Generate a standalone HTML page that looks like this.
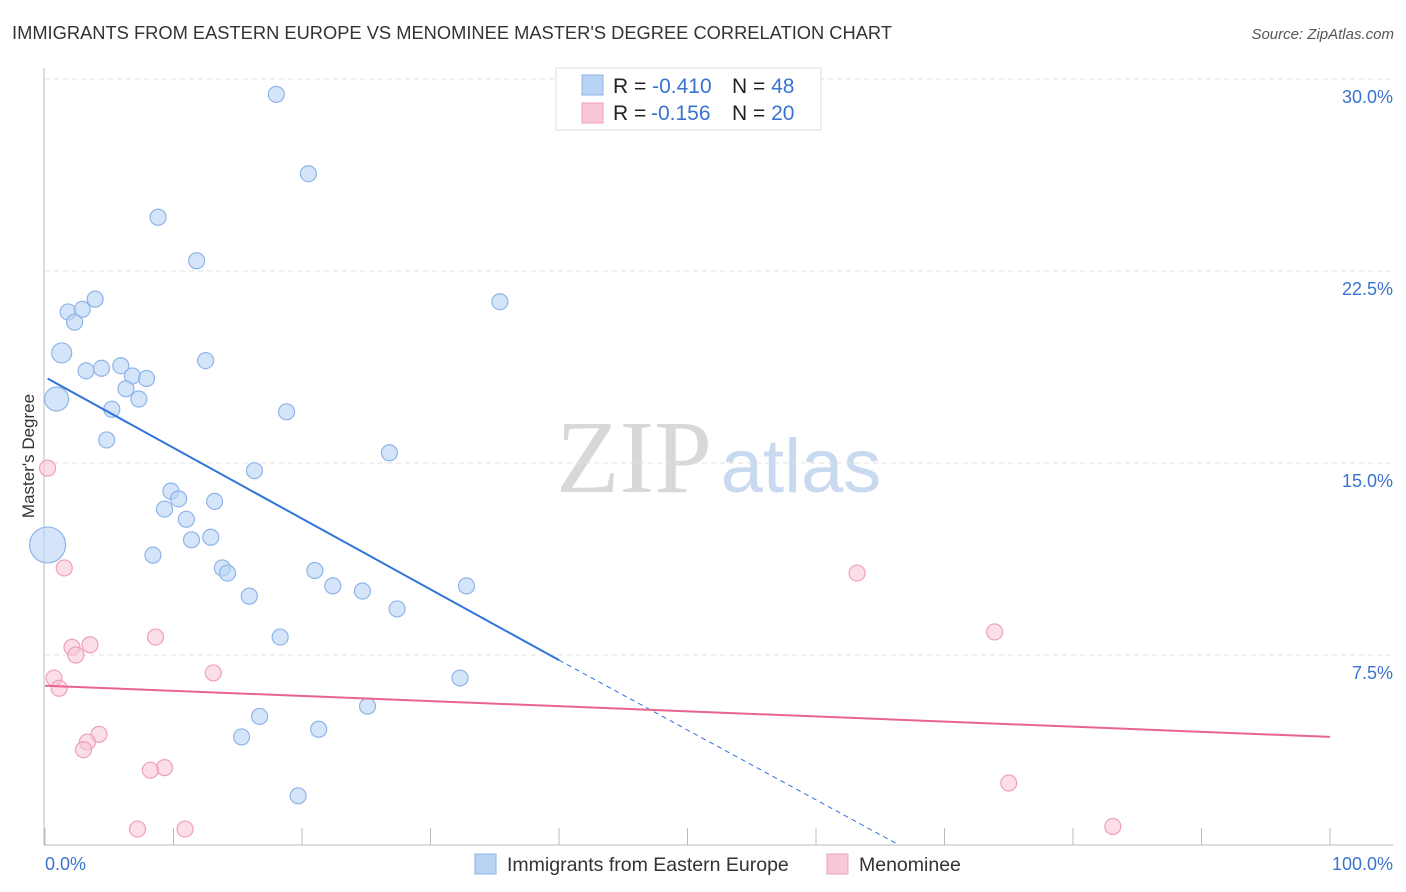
<!DOCTYPE html>
<html><head><meta charset="utf-8"><style>
body{margin:0;background:#fff;font-family:"Liberation Sans",sans-serif;}
svg{display:block}
</style></head><body>
<svg id="chart" width="1406" height="892" xmlns="http://www.w3.org/2000/svg">
<text x="12" y="39" font-size="18" fill="#333" textLength="880" lengthAdjust="spacingAndGlyphs">IMMIGRANTS FROM EASTERN EUROPE VS MENOMINEE MASTER'S DEGREE CORRELATION CHART</text>
<text x="1394" y="39" font-size="15" fill="#555" font-style="italic" text-anchor="end">Source: ZipAtlas.com</text>
<text x="634" y="492" font-size="104" fill="#d8d8d8" font-family="Liberation Serif,serif" text-anchor="middle">ZIP</text>
<text x="801" y="492" font-size="76" fill="#c9d9ef" text-anchor="middle">atlas</text>
<g id="grid"></g>
<g id="axes"></g>
<text transform="translate(34,456) rotate(-90)" font-size="17" fill="#333" text-anchor="middle">Master's Degree</text>
<g id="marks"></g>
<g>
<rect x="556" y="68" width="265" height="62" fill="#fff" stroke="#ddd"/>
<rect x="582" y="75" width="21" height="20" fill="#b9d3f5" stroke="#8fb4e8"/>
<rect x="582" y="103" width="21" height="20" fill="#f9c8d6" stroke="#f0a0b8"/>
<text x="613" y="93" font-size="21" fill="#222">R = <tspan fill="#3a74d0">-0.410</tspan><tspan x="732">N = </tspan><tspan fill="#3a74d0">48</tspan></text>
<text x="613" y="120" font-size="21" fill="#222">R = <tspan fill="#3a74d0" x="651">-0.156</tspan><tspan x="732">N = </tspan><tspan fill="#3a74d0">20</tspan></text>
</g>
<g>
<rect x="475" y="854" width="21" height="20" fill="#b9d3f5" stroke="#8fb4e8"/>
<text x="507" y="871" font-size="19.5" fill="#333">Immigrants from Eastern Europe</text>
<rect x="827" y="854" width="21" height="20" fill="#f9c8d6" stroke="#f0a0b8"/>
<text x="859" y="871" font-size="19.5" fill="#333">Menominee</text>
</g>
</svg>
<script>
const yTicks=[7.5,15,22.5,30];
const yTickLabels=["7.5%","15.0%","22.5%","30.0%"];
const xTickLabels=["0.0%","100.0%"];
const blueX=[18.0,20.5,8.8,11.8,3.9,35.4,1.8,2.9,2.3,1.3,12.5,3.2,4.4,5.9,6.8,7.9,6.3,0.9,7.3,5.2,18.8,4.8,26.8,16.3,9.8,10.4,13.2,9.3,11.0,12.9,11.4,8.4,0.2,13.8,14.2,21.0,22.4,32.8,24.7,15.9,27.4,18.3,32.3,25.1,16.7,21.3,15.3,19.7];
const blueY=[29.4,26.3,24.6,22.9,21.4,21.3,20.9,21.0,20.5,19.3,19.0,18.6,18.7,18.8,18.4,18.3,17.9,17.5,17.5,17.1,17.0,15.9,15.4,14.7,13.9,13.6,13.5,13.2,12.8,12.1,12.0,11.4,11.8,10.9,10.7,10.8,10.2,10.2,10.0,9.8,9.3,8.2,6.6,5.5,5.1,4.6,4.3,2.0];
const blueR=[8,8,8,8,8,8,8,8,8,10,8,8,8,8,8,8,8,12,8,8,8,8,8,8,8,8,8,8,8,8,8,8,18,8,8,8,8,8,8,8,8,8,8,8,8,8,8,8];
const pinkX=[0.2,1.5,8.6,2.1,3.5,2.4,13.1,0.7,1.1,4.2,3.3,3.0,9.3,8.2,7.2,10.9,63.2,73.9,75.0,83.1];
const pinkY=[14.8,10.9,8.2,7.8,7.9,7.5,6.8,6.6,6.2,4.4,4.1,3.8,3.1,3.0,0.7,0.7,10.7,8.4,2.5,0.8];
const blueTrend=[[0.2,18.3],[40,7.3],[66.2,0.15]];
const pinkTrend=[[0,6.3],[100,4.3]];
const NS="http://www.w3.org/2000/svg";
const X=v=>45+v*12.85, Y=v=>847-v*25.6;
function mk(t,a,p){const e=document.createElementNS(NS,t);for(const k in a)e.setAttribute(k,a[k]);document.getElementById(p).appendChild(e);return e;}
yTicks.forEach((t,i)=>{
 const g=mk('line',{x1:45,x2:1393,y1:Y(t),y2:Y(t),stroke:'#e2e2e2','stroke-dasharray':'5,4'},'grid');
 
 
 const l=mk('text',{x:1393,y:Y(t)+24,'font-size':18,fill:'#3a74d0','text-anchor':'end'},'axes');l.textContent=yTickLabels[i];
 
 
});
const ax=mk('line',{x1:44,x2:44,y1:68,y2:845,stroke:'#bbb'},'axes');


const bx=mk('line',{x1:44,x2:1393,y1:845,y2:845,stroke:'#bbb'},'axes');


for(let i=0;i<=10;i++){const t=mk('line',{x1:X(i*10),x2:X(i*10),y1:828,y2:845,stroke:'#bbb'},'axes');
 
 }
[[0,'start',45],[100,'end',1393]].forEach((d,i)=>{const t=mk('text',{x:d[2],y:870,'font-size':18,fill:'#3a74d0','text-anchor':d[1]},'axes');t.textContent=xTickLabels[i];
 
 });
blueX.forEach((x,i)=>{const c=mk('circle',{cx:X(x),cy:Y(blueY[i]),r:blueR[i],fill:'rgba(185,211,245,0.6)',stroke:'#8fb4e8','stroke-width':1.2},'marks');
 
 });
pinkX.forEach((x,i)=>{const c=mk('circle',{cx:X(x),cy:Y(pinkY[i]),r:8,fill:'rgba(249,200,214,0.6)',stroke:'#f0a0b8','stroke-width':1.2},'marks');
 
 });
const b1=mk('line',{x1:X(blueTrend[0][0]),y1:Y(blueTrend[0][1]),x2:X(blueTrend[1][0]),y2:Y(blueTrend[1][1]),stroke:'#2f74d8','stroke-width':2},'marks');


const b2=mk('line',{x1:X(blueTrend[1][0]),y1:Y(blueTrend[1][1]),x2:X(blueTrend[2][0]),y2:Y(blueTrend[2][1]),stroke:'#2f74d8','stroke-width':1,'stroke-dasharray':'5,4'},'marks');


const p1=mk('line',{x1:X(pinkTrend[0][0]),y1:Y(pinkTrend[0][1]),x2:X(pinkTrend[1][0]),y2:Y(pinkTrend[1][1]),stroke:'#e8648e','stroke-width':2},'marks');


</script>
</body></html>
